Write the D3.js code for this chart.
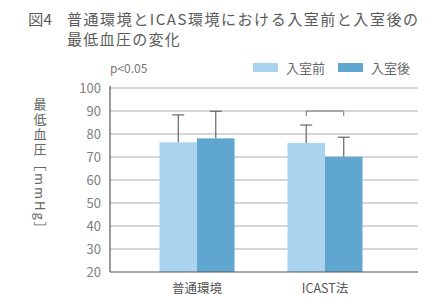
<!DOCTYPE html>
<html><head><meta charset="utf-8">
<script src="https://cdn.jsdelivr.net/npm/d3@7"></script>
<style>
  html, body { margin: 0; padding: 0; background: #fff; }
  svg { display: block; font-family: "Noto Sans CJK JP", "Noto Sans", sans-serif; }
</style>
</head><body>
<svg id="chart" width="432" height="300"></svg>
<script>
// 図4: 普通環境 / ICAS環境 の入室前・入室後 最低血圧
const groups = ['普通環境', 'ICAST法'];
const series = ['入室前', '入室後'];
const meanBefore = [76.4, 76.1];
const meanAfter = [78.1, 70.1];
const sdBefore = [11.9, 7.8];
const sdAfter = [11.8, 8.5];
const yTicks = [20, 30, 40, 50, 60, 70, 80, 90, 100];
const colors = ['#a9d3ef', '#5fa6d1'];

const svg = d3.select('#chart');
const L = 110, R = 418, T = 88, B = 272;

const y = d3.scaleLinear().domain([20, 100]).range([B, T]);
const x0 = d3.scaleBand().domain(groups).range([L, 412]).paddingInner(0.414).paddingOuter(0.387);
const x1 = d3.scaleBand().domain(series).range([0, x0.bandwidth()]);

// title
const title = svg.append('g').attr('fill', '#5a5a5a').style('font-size', '15px');
title.append('text').attr('x', 28).attr('y', 25)
  .attr('textLength', 24).attr('lengthAdjust', 'spacingAndGlyphs').text('図4');
title.append('text').attr('x', 67).attr('y', 25)
  .attr('textLength', 351).attr('lengthAdjust', 'spacing')
  .text('普通環境とICAS環境における入室前と入室後の');
title.append('text').attr('x', 67).attr('y', 45)
  .style('letter-spacing', '1.3px')
  .text('最低血圧の変化');

// grid
svg.append('g').selectAll('line').data(yTicks.filter(v => v > 20)).join('line')
  .attr('x1', L).attr('x2', R).attr('y1', d => y(d)).attr('y2', d => y(d))
  .attr('stroke', '#9a9a9a').attr('stroke-width', 0.8);

// y axis labels
svg.append('g').selectAll('text').data(yTicks).join('text')
  .attr('x', 101).attr('y', d => y(d) + 5).attr('text-anchor', 'end')
  .attr('fill', '#808080').style('font-size', '13px').text(d => d);

svg.append('text').attr('x', 40).attr('y', 98)
  .attr('fill', '#666').style('font-size', '13px')
  .style('writing-mode', 'vertical-rl').style('text-orientation', 'mixed')
  .style('letter-spacing', '2px')
  .text('最低血圧［mmHg］');

// bars
const rows = [];
groups.forEach((g, i) => {
  rows.push({ g, s: series[0], v: meanBefore[i], sd: sdBefore[i], c: colors[0] });
  rows.push({ g, s: series[1], v: meanAfter[i], sd: sdAfter[i], c: colors[1] });
});
svg.append('g').selectAll('rect').data(rows).join('rect')
  .attr('x', d => x0(d.g) + x1(d.s)).attr('width', x1.bandwidth())
  .attr('y', d => y(d.v)).attr('height', d => B - y(d.v))
  .attr('fill', d => d.c);

// error bars
const eb = svg.append('g').attr('stroke', '#666').attr('stroke-width', 1.2);
rows.forEach(d => {
  const cx = x0(d.g) + x1(d.s) + x1.bandwidth() / 2;
  eb.append('line').attr('x1', cx).attr('x2', cx).attr('y1', y(d.v)).attr('y2', y(d.v + d.sd));
  eb.append('line').attr('x1', cx - 6).attr('x2', cx + 6).attr('y1', y(d.v + d.sd)).attr('y2', y(d.v + d.sd));
});

// significance bracket (ICAST法)
const bx1 = x0(groups[1]) + x1(series[0]) + x1.bandwidth() / 2;
const bx2 = x0(groups[1]) + x1(series[1]) + x1.bandwidth() / 2;
const by = y(90);
svg.append('path').attr('d', `M${bx1},${by + 5}V${by}H${bx2}V${by + 5}`)
  .attr('fill', 'none').attr('stroke', '#777').attr('stroke-width', 1);

// axes lines
svg.append('line').attr('x1', L).attr('x2', L).attr('y1', T - 2).attr('y2', B)
  .attr('stroke', '#555').attr('stroke-width', 1.2);
svg.append('line').attr('x1', L).attr('x2', R).attr('y1', B).attr('y2', B)
  .attr('stroke', '#555').attr('stroke-width', 1.2);

// x labels
svg.append('g').selectAll('text').data(groups).join('text')
  .attr('x', d => x0(d) + x0.bandwidth() / 2).attr('y', 293).attr('text-anchor', 'middle')
  .attr('fill', '#555').style('font-size', '12.5px').text(d => d);

// p value + legend
svg.append('text').attr('x', 110).attr('y', 73).attr('fill', '#777')
  .style('font-size', '12px').text('p<0.05');
const lg = svg.append('g');
[253, 338].forEach((lx, i) => {
  lg.append('rect').attr('x', lx).attr('y', 63).attr('width', 25).attr('height', 9).attr('fill', colors[i]);
  lg.append('text').attr('x', lx + 33).attr('y', 72.5).attr('fill', '#666')
    .style('font-size', '13px').text(series[i]);
});
</script>
</body></html>
